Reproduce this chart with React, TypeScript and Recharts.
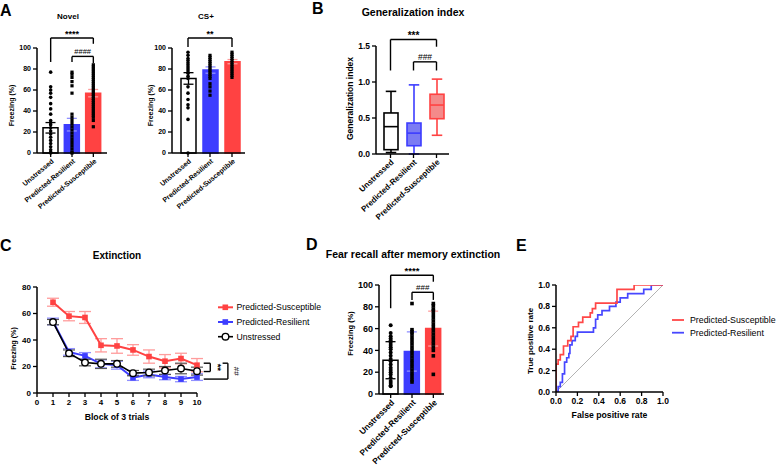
import React from 'react';
import {
  ComposedChart,
  LineChart,
  Bar,
  Line,
  Scatter,
  XAxis,
  YAxis,
  ErrorBar,
  ReferenceLine,
} from 'recharts';

const FONT = '"Liberation Sans", Arial, Helvetica, sans-serif';

// ---------- shared categories / colours ----------
const GROUPS = ['Unstressed', 'Predicted-Resilient', 'Predicted-Susceptible'];
const BLUE = '#3d3dff';
const RED = '#ff4242';
const BAR_FILL = ['#ffffff', BLUE, RED];
const BAR_STROKE = ['#000000', BLUE, RED];
const ERR_STROKE = ['#000000', '#9090ff', '#ff9c9c'];

// ---------- A: Novel ----------
const novelMean = [24, 27, 57];
const novelSem = [5, 6, 3.5];
const novelUnstressed = [77, 63, 60, 57, 53, 47, 42, 37, 31, 29, 27, 24, 21, 18, 15, 12, 9, 6, 3, 1, 0];
const novelResilient = [77, 75, 72, 68, 64, 57, 37, 34, 31, 28, 25, 22, 19, 16, 13, 10, 7, 4, 1, 0];
const novelSusceptible = [84, 82, 80, 78, 76, 74, 72, 70, 68, 66, 64, 62, 60, 58, 56, 54, 52, 50, 48, 46, 44, 42, 40, 38, 36, 34, 31, 25];
const novelSig = [
  { a: 0, b: 2, top: 109.5, legA: 86.7, legB: 104, text: '****', bold: true },
  { a: 1, b: 2, top: 92, legA: 86.7, legB: 85.7, text: '####', bold: false },
];

// ---------- A: CS+ ----------
const csMean = [71, 79, 87];
const csSem = [5.5, 3, 2];
const csUnstressed = [96, 93, 90, 88, 86, 84, 82, 80, 78, 76, 73, 71, 63, 57, 51, 46, 43, 32, 0];
const csResilient = [93, 91, 89, 87, 85, 83, 81, 79, 77, 75, 73, 71, 66, 63, 59, 55];
const csSusceptible = [96, 94, 92, 90, 88, 86, 84, 82, 80, 78, 76, 74, 72];
const csSig = [{ a: 0, b: 2, top: 109.5, legA: 101, legB: 101, text: '**', bold: true }];

const pctTicks = [0, 20, 40, 60, 80, 100];

// ---------- B: Generalization index (box plot) ----------
const giMin = [0.02, 0.0, 0.26];
const giQ1 = [0.06, 0.115, 0.49];
const giMed = [0.38, 0.29, 0.68];
const giQ3 = [0.57, 0.43, 0.83];
const giMax = [0.87, 0.96, 1.04];
const giTicks = [0, 0.5, 1.0, 1.5];
const giSig = [
  { a: 0, b: 2, top: 1.59, legA: 1.16, legB: 1.49, text: '***', bold: true },
  { a: 1, b: 2, top: 1.28, legA: 1.16, legB: 1.16, text: '###', bold: false },
];
const BOX_FILL = ['#ffffff', '#7b7bf3', '#f48a8a'];
const BOX_STROKE = ['#000000', BLUE, RED];

// ---------- C: Extinction ----------
const blocks = [1, 2, 3, 4, 5, 6, 7, 8, 9, 10];
const susMean = [68.5, 58, 57, 36, 35.5, 32.5, 27.5, 24, 26, 21];
const susSem = [3, 3.5, 4.5, 5, 5.5, 4, 5, 5, 4, 5];
const resMean = [54, 31, 28, 22, 21, 11.5, 14, 12, 10.5, 12];
const resSem = [2.5, 2.5, 2.5, 3, 3, 2, 2.5, 2, 2, 2.5];
const unsMean = [53.5, 30, 23, 22, 22, 15, 15.5, 17, 18.5, 16.5];
const unsSem = [2, 2.5, 2.5, 3.5, 2.5, 2, 2.5, 3, 4, 3];
const extXTicks = [0, 1, 2, 3, 4, 5, 6, 7, 8, 9, 10];
const extYTicks = [0, 20, 40, 60, 80];
const extSig = [
  { xv: 10.83, yTop: 22.5, yBot: 16.2, xTop: 10.42, xBot: 10.42, text: '**', bold: true },
  { xv: 11.93, yTop: 22.5, yBot: 10.5, xTop: 11.6, xBot: 10.42, text: '##', bold: false },
];

// ---------- D: Fear recall ----------
const recallMean = [31, 39, 60];
const recallSd = [17, 18, 16];
const recallUnstressed = [63, 56, 53, 51, 49, 47, 45, 43, 41, 38, 35, 32, 30, 27, 24, 22, 20, 18, 15, 12, 10, 8, 7];
const recallResilient = [83, 59, 57, 55, 52, 49, 46, 43, 40, 37, 34, 31, 28, 25, 22, 19, 16, 13, 11];
const recallSusceptible = [83, 81, 78, 76, 73, 70, 67, 64, 61, 58, 55, 52, 49, 46, 43, 40, 35, 18];
const recallSig = [
  { a: 0, b: 2, top: 109, legA: 78.7, legB: 103, text: '****', bold: true },
  { a: 1, b: 2, top: 93.3, legA: 86.3, legB: 86.3, text: '###', bold: false },
];

// ---------- E: ROC ----------
const susFpr = [0, 0, 0.02, 0.04, 0.07, 0.11, 0.14, 0.16, 0.21, 0.25, 0.32, 0.34, 0.37, 0.57, 0.73, 1];
const susTpr = [0, 0.26, 0.3, 0.35, 0.43, 0.48, 0.52, 0.61, 0.65, 0.7, 0.74, 0.78, 0.83, 0.96, 1, 1];
const resFpr = [0, 0.02, 0.04, 0.06, 0.08, 0.1, 0.12, 0.13, 0.15, 0.18, 0.2, 0.35, 0.37, 0.39, 0.43, 0.5, 0.56, 0.6, 0.67, 0.82, 0.89, 1];
const resTpr = [0, 0.05, 0.09, 0.17, 0.28, 0.32, 0.36, 0.44, 0.48, 0.52, 0.56, 0.6, 0.68, 0.72, 0.76, 0.8, 0.84, 0.88, 0.92, 0.96, 1, 1];
const rocTicks = [0, 0.2, 0.4, 0.6, 0.8, 1.0];

// ---------- helpers ----------
const AXIS_LINE = { stroke: '#000', strokeWidth: 1.5 };
const TICK_LINE = { stroke: '#000', strokeWidth: 1.3 };
const tickStyle = (fs: number) => ({ fill: '#000', fontSize: fs, fontWeight: 700, fontFamily: FONT });

const yLabel = (text: string, fs: number, dx: number, dy: number) => ({
  content: (p: any) => {
    const vb = p.viewBox || {};
    const cx = (vb.x || 0) + dx;
    const cy = (vb.y || 0) + (vb.height || 0) / 2 + dy;
    return (
      <text x={cx} y={cy} transform={`rotate(-90 ${cx} ${cy})`} textAnchor="middle" dominantBaseline="central"
        fontSize={fs} fontWeight={700} fontFamily={FONT} fill="#000">{text}</text>
    );
  },
});

const xLabel = (text: string, fs: number, dy: number) => ({
  content: (p: any) => {
    const vb = p.viewBox || {};
    const cx = (vb.x || 0) + (vb.width || 0) / 2;
    const cy = (vb.y || 0) + dy;
    return (
      <text x={cx} y={cy} textAnchor="middle" fontSize={fs} fontWeight={700} fontFamily={FONT} fill="#000">{text}</text>
    );
  },
});

const makeAngledTick = (fs: number, angle: number) => (props: any) => {
  const { x, y, payload } = props;
  const ax = x + 2;
  const ay = y + 1;
  return (
    <text x={ax} y={ay} transform={`rotate(${-angle} ${ax} ${ay})`} textAnchor="end" dominantBaseline="central"
      fontSize={fs} fontWeight={700} fontFamily={FONT} fill="#000">{payload.value}</text>
  );
};

const sigLabel = (text: string, bold: boolean, fs: number) => ({
  value: text,
  position: 'top' as const,
  offset: bold ? 1 : 2,
  fontSize: bold ? fs : fs - 1.5,
  fontWeight: bold ? 700 : 400,
  fontFamily: FONT,
  fill: '#000',
});

function catBrackets(sig: any[], fs: number, keyBase: string) {
  const out: any[] = [];
  sig.forEach((s, i) => {
    const xa = GROUPS[s.a];
    const xb = GROUPS[s.b];
    out.push(
      <ReferenceLine key={`${keyBase}h${i}`} segment={[{ x: xa, y: s.top }, { x: xb, y: s.top }]} stroke="#000"
        strokeWidth={1.4} ifOverflow="visible" label={sigLabel(s.text, s.bold, fs)} />,
      <ReferenceLine key={`${keyBase}l${i}`} segment={[{ x: xa, y: s.top }, { x: xa, y: s.legA }]} stroke="#000"
        strokeWidth={1.4} ifOverflow="visible" />,
      <ReferenceLine key={`${keyBase}r${i}`} segment={[{ x: xb, y: s.top }, { x: xb, y: s.legB }]} stroke="#000"
        strokeWidth={1.4} ifOverflow="visible" />,
    );
  });
  return out;
}

type BarPanelProps = {
  left: number; top: number; width: number; height: number;
  mTop: number; mRight: number; yw: number; xh: number;
  means: number[]; errs: number[]; dots: number[][]; sig: any[];
  padL: number; padR: number; barSize: number;
  tickFs: number; xTickFs: number; angle: number;
  ylab: string; ylabFs: number; ylabDx: number; ylabDy: number;
  dotSize: number; sigFs: number;
};

const BarPanel = (p: BarPanelProps) => {
  const data = GROUPS.map((g, i) => ({ cat: g, [`m${i}`]: p.means[i], [`e${i}`]: p.errs[i] }));
  const ds = p.dotSize;
  const circle = (q: any) => <circle cx={q.cx} cy={q.cy} r={ds / 2 + 0.2} fill="#000" />;
  const square = (q: any) => <rect x={q.cx - ds / 2} y={q.cy - ds / 2} width={ds} height={ds} fill="#000" />;
  return (
    <div style={{ position: 'absolute', left: p.left, top: p.top }}>
      <ComposedChart width={p.width} height={p.height} data={data}
        margin={{ top: p.mTop, right: p.mRight, bottom: 0, left: 0 }}>
        <XAxis dataKey="cat" type="category" allowDuplicatedCategory={false} interval={0}
          padding={{ left: p.padL, right: p.padR }} height={p.xh} tickSize={4} tickMargin={2}
          axisLine={AXIS_LINE} tickLine={TICK_LINE} tick={makeAngledTick(p.xTickFs, p.angle)} />
        <YAxis type="number" domain={[0, 100]} ticks={pctTicks} width={p.yw} tickSize={4} tickMargin={2}
          axisLine={AXIS_LINE} tickLine={TICK_LINE} tick={tickStyle(p.tickFs)} interval={0}
          label={yLabel(p.ylab, p.ylabFs, p.ylabDx, p.ylabDy)} />
        {[0, 1, 2].map((i) => (
          <Bar key={`b${i}`} dataKey={`m${i}`} stackId="s" barSize={p.barSize} fill={BAR_FILL[i]}
            stroke={BAR_STROKE[i]} strokeWidth={1.5} isAnimationActive={false}>
            <ErrorBar dataKey={`e${i}`} width={5} stroke={ERR_STROKE[i]} strokeWidth={1.3} direction="y" />
          </Bar>
        ))}
        {[0, 1, 2].map((i) => (
          <Scatter key={`s${i}`} data={p.dots[i].map((v) => ({ cat: GROUPS[i], v }))} dataKey="v"
            shape={i === 0 ? circle : square} isAnimationActive={false} />
        ))}
        {catBrackets(p.sig, p.sigFs, 'br')}
      </ComposedChart>
    </div>
  );
};

const BoxShape = (props: any) => {
  const { x, y, width, height, payload } = props;
  if (!payload) return null;
  const top = Math.min(y, y + height);
  const h = Math.abs(height);
  const { min, q1, med, q3, max, idx } = payload;
  const py = (v: number) => top + ((max - v) / (max - min)) * h;
  const cx = x + width / 2;
  const stroke = BOX_STROKE[idx];
  const fill = BOX_FILL[idx];
  const cap = width * 0.75;
  const sw = 1.6;
  return (
    <g>
      <line x1={cx} x2={cx} y1={py(max)} y2={py(q3)} stroke={stroke} strokeWidth={sw} />
      <line x1={cx} x2={cx} y1={py(q1)} y2={py(min)} stroke={stroke} strokeWidth={sw} />
      <line x1={cx - cap / 2} x2={cx + cap / 2} y1={py(max)} y2={py(max)} stroke={stroke} strokeWidth={sw} />
      <line x1={cx - cap / 2} x2={cx + cap / 2} y1={py(min)} y2={py(min)} stroke={stroke} strokeWidth={sw} />
      <rect x={x} y={py(q3)} width={width} height={py(q1) - py(q3)} fill={fill} stroke={stroke} strokeWidth={sw} />
      <line x1={x} x2={x + width} y1={py(med)} y2={py(med)} stroke={stroke} strokeWidth={sw} />
    </g>
  );
};

const GeneralizationPanel = () => {
  const data = GROUPS.map((g, i) => ({
    cat: g, range: [giMin[i], giMax[i]], min: giMin[i], q1: giQ1[i], med: giMed[i], q3: giQ3[i], max: giMax[i], idx: i,
  }));
  return (
    <div style={{ position: 'absolute', left: 340, top: 0 }}>
      <ComposedChart width={114} height={240} data={data} margin={{ top: 46, right: 5, bottom: 0, left: 0 }}>
        <XAxis dataKey="cat" type="category" interval={0} padding={{ left: 3, right: 1 }} height={86}
          tickSize={4} tickMargin={2} axisLine={AXIS_LINE} tickLine={TICK_LINE} tick={makeAngledTick(8, 43)} />
        <YAxis type="number" domain={[0, 1.5]} ticks={giTicks} width={36} tickSize={4} tickMargin={2} interval={0}
          axisLine={AXIS_LINE} tickLine={TICK_LINE} tick={tickStyle(8.5)} tickFormatter={(v: number) => v.toFixed(1)}
          label={yLabel('Generalization index', 8.5, 10, -1.5)} />
        <Bar dataKey="range" barSize={14} shape={BoxShape} isAnimationActive={false} />
        {catBrackets(giSig, 10, 'gb')}
      </ComposedChart>
    </div>
  );
};

const sqDot = (color: string) => (q: any) => (
  <rect key={`d${q.index}`} x={q.cx - 2.8} y={q.cy - 2.8} width={5.6} height={5.6} fill={color} />
);
const openDot = (q: any) => (
  <circle key={`o${q.index}`} cx={q.cx} cy={q.cy} r={3.3} fill="#fff" stroke="#000" strokeWidth={1.4} />
);

const ExtinctionPanel = () => {
  const data = blocks.map((b, i) => ({
    x: b, sus: susMean[i], susE: susSem[i], res: resMean[i], resE: resSem[i], uns: unsMean[i], unsE: unsSem[i],
  }));
  return (
    <div style={{ position: 'absolute', left: 0, top: 240 }}>
      <LineChart width={320} height={226} data={data} margin={{ top: 47, right: 123, bottom: 0, left: 0 }}>
        <XAxis dataKey="x" type="number" domain={[0, 10]} ticks={extXTicks} interval={0} height={73}
          tickSize={4} tickMargin={2} axisLine={AXIS_LINE} tickLine={TICK_LINE} tick={tickStyle(8)}
          label={xLabel('Block of 3 trials', 8.7, 27)} />
        <YAxis type="number" domain={[0, 80]} ticks={extYTicks} width={37} tickSize={4} tickMargin={2} interval={0}
          axisLine={AXIS_LINE} tickLine={TICK_LINE} tick={tickStyle(8)}
          label={yLabel('Freezing (%)', 7.2, 13.7, 8.5)} />
        <Line dataKey="sus" stroke={RED} strokeWidth={2} dot={sqDot(RED)} isAnimationActive={false}>
          <ErrorBar dataKey="susE" width={6} stroke="#ff9c9c" strokeWidth={1.3} direction="y" />
        </Line>
        <Line dataKey="res" stroke={BLUE} strokeWidth={2} dot={sqDot(BLUE)} isAnimationActive={false}>
          <ErrorBar dataKey="resE" width={6} stroke="#9090ff" strokeWidth={1.3} direction="y" />
        </Line>
        <Line dataKey="uns" stroke="#000" strokeWidth={1.6} dot={openDot} isAnimationActive={false}>
          <ErrorBar dataKey="unsE" width={6} stroke="#555" strokeWidth={1.2} direction="y" />
        </Line>
        {extSig.map((s, i) => [
          <ReferenceLine key={`et${i}`} segment={[{ x: s.xTop, y: s.yTop }, { x: s.xv, y: s.yTop }]}
            stroke="#000" strokeWidth={1.4} ifOverflow="visible" />,
          <ReferenceLine key={`ev${i}`} segment={[{ x: s.xv, y: s.yTop }, { x: s.xv, y: s.yBot }]}
            stroke="#000" strokeWidth={1.4} ifOverflow="visible"
            label={{ value: s.text, position: 'right', offset: s.bold ? 8 : 9, angle: 90, fontSize: s.bold ? 9.5 : 8,
              fontWeight: s.bold ? 700 : 400, fontFamily: FONT, fill: '#000', style: { textAnchor: 'middle' } }} />,
          <ReferenceLine key={`eb${i}`} segment={[{ x: s.xBot, y: s.yBot }, { x: s.xv, y: s.yBot }]}
            stroke="#000" strokeWidth={1.4} ifOverflow="visible" />,
        ])}
      </LineChart>
    </div>
  );
};

const RocPanel = () => {
  const sus = susFpr.map((x, i) => ({ x, y: susTpr[i] }));
  const res = resFpr.map((x, i) => ({ x, y: resTpr[i] }));
  return (
    <div style={{ position: 'absolute', left: 510, top: 240 }}>
      <LineChart width={266} height={226} margin={{ top: 45, right: 113, bottom: 0, left: 0 }}>
        <XAxis dataKey="x" type="number" domain={[0, 1]} ticks={rocTicks} interval={0} height={74}
          tickSize={4} tickMargin={2} axisLine={AXIS_LINE} tickLine={TICK_LINE} tick={tickStyle(8.5)}
          tickFormatter={(v: number) => v.toFixed(1)} allowDataOverflow
          label={xLabel('False positive rate', 8.7, 26)} />
        <YAxis dataKey="y" type="number" domain={[0, 1]} ticks={rocTicks} width={46} tickSize={4} tickMargin={2}
          interval={0} axisLine={AXIS_LINE} tickLine={TICK_LINE} tick={tickStyle(8.5)}
          tickFormatter={(v: number) => v.toFixed(1)} allowDataOverflow
          label={yLabel('True positive rate', 8, 20.7, 2.5)} />
        <ReferenceLine segment={[{ x: 0, y: 0 }, { x: 1, y: 1 }]} stroke="#a0a0a0" strokeWidth={0.8} ifOverflow="visible" />
        <Line data={res} dataKey="y" type="stepAfter" stroke="#4747ff" strokeWidth={1.7} dot={false} isAnimationActive={false} />
        <Line data={sus} dataKey="y" type="stepAfter" stroke="#ff4747" strokeWidth={1.7} dot={false} isAnimationActive={false} />
      </LineChart>
    </div>
  );
};

const extLegend = [
  { name: 'Predicted-Susceptible', color: RED, kind: 'square' },
  { name: 'Predicted-Resilient', color: BLUE, kind: 'square' },
  { name: 'Unstressed', color: '#000', kind: 'circle' },
];
const rocLegend = [
  { name: 'Predicted-Susceptible', color: '#ff4747' },
  { name: 'Predicted-Resilient', color: '#4747ff' },
];

const Overlay = () => (
  <svg width={776} height={466} style={{ position: 'absolute', left: 0, top: 0, pointerEvents: 'none' }}
    fontFamily={FONT}>
    {/* panel letters */}
    <g fontSize={16} fontWeight={700} fill="#000">
      <text x={0} y={16}>A</text>
      <text x={312} y={14}>B</text>
      <text x={0} y={251}>C</text>
      <text x={306} y={250}>D</text>
      <text x={516} y={251}>E</text>
    </g>
    {/* titles */}
    <g fontWeight={700} fill="#000" textAnchor="middle">
      <text x={68} y={19} fontSize={8}>Novel</text>
      <text x={206} y={19} fontSize={8}>CS+</text>
      <text x={413} y={15.5} fontSize={10.5}>Generalization index</text>
      <text x={117} y={259} fontSize={10}>Extinction</text>
      <text x={413} y={257.5} fontSize={10.5}>Fear recall after memory extinction</text>
    </g>
    {/* extinction legend */}
    {extLegend.map((l, i) => {
      const y = 307.3 + i * 14.7;
      return (
        <g key={`el${i}`}>
          <line x1={218} x2={233} y1={y} y2={y} stroke={l.color} strokeWidth={l.kind === 'circle' ? 1.6 : 2} />
          {l.kind === 'square' ? (
            <rect x={222.5} y={y - 2.8} width={5.6} height={5.6} fill={l.color} />
          ) : (
            <circle cx={225.5} cy={y} r={3.3} fill="#fff" stroke="#000" strokeWidth={1.4} />
          )}
          <text x={236.5} y={y} dominantBaseline="central" fontSize={8.7} fill="#000">{l.name}</text>
        </g>
      );
    })}
    {/* ROC legend */}
    {rocLegend.map((l, i) => {
      const y = 320 + i * 12.7;
      return (
        <g key={`rl${i}`}>
          <line x1={672} x2={684} y1={y} y2={y} stroke={l.color} strokeWidth={1.8} />
          <text x={690} y={y} dominantBaseline="central" fontSize={8.8} fill="#000">{l.name}</text>
        </g>
      );
    })}
  </svg>
);

export default function App() {
  return (
    <div style={{ position: 'absolute', left: 0, top: 0, width: 776, height: 466, background: '#fff', overflow: 'hidden', fontFamily: FONT }}>
      <BarPanel left={0} top={0} width={112} height={240} mTop={48} mRight={5} yw={37} xh={87}
        means={novelMean} errs={novelSem} dots={[novelUnstressed, novelResilient, novelSusceptible]} sig={novelSig}
        padL={3} padR={3} barSize={15} tickFs={7} xTickFs={7} angle={40}
        ylab="Freezing (%)" ylabFs={7} ylabDx={11.7} ylabDy={5} dotSize={3.2} sigFs={9} />
      <BarPanel left={135} top={0} width={115} height={240} mTop={48} mRight={5} yw={37} xh={87}
        means={csMean} errs={csSem} dots={[csUnstressed, csResilient, csSusceptible]} sig={csSig}
        padL={5} padR={2} barSize={15} tickFs={7} xTickFs={7} angle={40}
        ylab="Freezing (%)" ylabFs={7} ylabDx={15} ylabDy={5} dotSize={3.2} sigFs={9} />
      <GeneralizationPanel />
      <ExtinctionPanel />
      <BarPanel left={340} top={240} width={109} height={226} mTop={45} mRight={5} yw={39} xh={72}
        means={recallMean} errs={recallSd} dots={[recallUnstressed, recallResilient, recallSusceptible]} sig={recallSig}
        padL={1} padR={0} barSize={15} tickFs={9} xTickFs={8.3} angle={45}
        ylab="Freezing (%)" ylabFs={7.5} ylabDx={10} ylabDy={-6} dotSize={3.6} sigFs={9.5} />
      <RocPanel />
      <Overlay />
    </div>
  );
}
